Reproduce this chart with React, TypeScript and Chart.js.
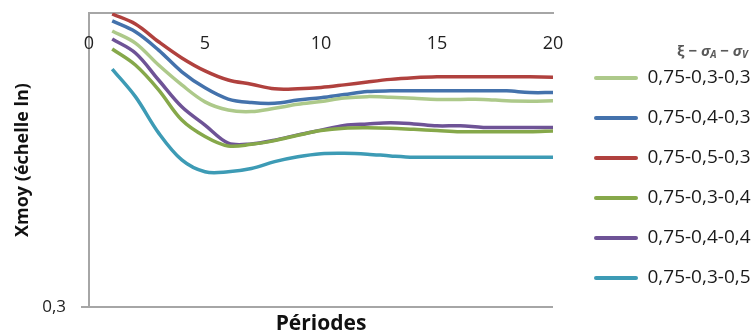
import React, { useEffect, useRef } from 'react';
import { Chart, registerables } from 'chart.js';

Chart.register(...registerables);

// ---- data ----
const periods = [1, 2, 3, 4, 5, 6, 7, 8, 9, 10, 11, 12, 13, 14, 15, 16, 17, 18, 19, 20];
const xTickValues = [0, 5, 10, 15, 20];
const yTickValues = [0.3];
const yMin = 0.3;
const yMax = 1;

const seriesLabels = ['0,75-0,3-0,3', '0,75-0,4-0,3', '0,75-0,5-0,3', '0,75-0,3-0,4', '0,75-0,4-0,4', '0,75-0,3-0,5'];

const s_075_03_03 = [0.929, 0.884, 0.808, 0.745, 0.695, 0.672, 0.668, 0.677, 0.688, 0.696, 0.706, 0.71, 0.708, 0.705, 0.702, 0.702, 0.702, 0.698, 0.697, 0.698];
const s_075_04_03 = [0.968, 0.926, 0.859, 0.786, 0.736, 0.703, 0.693, 0.691, 0.7, 0.707, 0.716, 0.725, 0.727, 0.727, 0.727, 0.727, 0.727, 0.727, 0.722, 0.722];
const s_075_05_03 = [0.996, 0.956, 0.889, 0.832, 0.789, 0.76, 0.747, 0.733, 0.733, 0.737, 0.745, 0.754, 0.762, 0.767, 0.77, 0.77, 0.77, 0.77, 0.77, 0.769];
const s_075_03_04 = [0.863, 0.808, 0.73, 0.645, 0.603, 0.58, 0.584, 0.593, 0.606, 0.618, 0.624, 0.625, 0.624, 0.621, 0.618, 0.615, 0.615, 0.615, 0.615, 0.617];
const s_075_04_04 = [0.899, 0.849, 0.76, 0.681, 0.632, 0.587, 0.585, 0.594, 0.607, 0.619, 0.631, 0.635, 0.638, 0.635, 0.63, 0.63, 0.626, 0.626, 0.626, 0.626];
const s_075_03_05 = [0.795, 0.71, 0.612, 0.548, 0.522, 0.522, 0.529, 0.544, 0.555, 0.562, 0.563, 0.561, 0.557, 0.554, 0.554, 0.554, 0.554, 0.554, 0.554, 0.554];

const seriesValues = [s_075_03_03, s_075_04_03, s_075_05_03, s_075_03_04, s_075_04_04, s_075_03_05];

// ---- styles ----
const seriesColors = ['#ADC98A', '#4472AC', '#B0413E', '#86A84A', '#6E5396', '#3D9BB5'];
const FONT = '"Open Sans", "DejaVu Sans", sans-serif';
const AXIS_GRAY = '#a6a6a6';

const formatY = (v: number) => String(v).replace('.', ',');

// x tick labels sit just inside the plot, under the top axis line
const xTickLabelsPlugin = {
  id: 'xTickLabelsInside',
  afterDraw(chart: any) {
    const sx = chart.scales.x;
    const ctx = chart.ctx;
    ctx.save();
    ctx.font = `18px ${FONT}`;
    ctx.fillStyle = '#222';
    ctx.textAlign = 'center';
    ctx.textBaseline = 'alphabetic';
    for (const v of xTickValues) {
      ctx.fillText(String(v), sx.getPixelForValue(v), chart.chartArea.top + 36);
    }
    ctx.restore();
  },
};

// legend title with subscripts: ξ − σA − σV
const legendTitlePlugin = {
  id: 'legendRichTitle',
  afterDraw(chart: any) {
    const lg = chart.legend;
    if (!lg || !lg.legendHitBoxes || !lg.legendHitBoxes.length) return;
    const ctx = chart.ctx;
    const main = `bold 15px ${FONT}`;
    const sig = `italic bold 15px ${FONT}`;
    const sub = `italic bold 10px ${FONT}`;
    const parts = [
      { t: 'ξ − ', f: main, dy: 0 },
      { t: 'σ', f: sig, dy: 0 },
      { t: 'A', f: sub, dy: 4 },
      { t: ' − ', f: main, dy: 0 },
      { t: 'σ', f: sig, dy: 0 },
      { t: 'V', f: sub, dy: 4 },
    ];
    ctx.save();
    let total = 0;
    const widths = parts.map((p) => {
      ctx.font = p.f;
      const w = ctx.measureText(p.t).width;
      total += w;
      return w;
    });
    let x = lg.right - 8 - total;
    const y = lg.legendHitBoxes[0].top - 17;
    ctx.fillStyle = '#595959';
    ctx.textBaseline = 'middle';
    ctx.textAlign = 'left';
    parts.forEach((p, i) => {
      ctx.font = p.f;
      ctx.fillText(p.t, x, y + p.dy);
      x += widths[i];
    });
    ctx.restore();
  },
};

export default function App() {
  const ref = useRef<HTMLCanvasElement>(null);

  useEffect(() => {
    document.body.style.margin = '0';
    const canvas = ref.current;
    if (!canvas) return;

    const datasets = seriesLabels.map((label, i) => ({
      label,
      data: periods.map((p, j) => ({ x: p, y: seriesValues[i][j] })),
      borderColor: seriesColors[i],
      backgroundColor: seriesColors[i],
      borderWidth: 3.5,
      pointRadius: 0,
      tension: 0.35,
      fill: false,
      xAxisID: 'x',
      yAxisID: 'y',
    }));

    const chart = new Chart(canvas, {
      type: 'line',
      data: { datasets },
      options: {
        animation: false,
        responsive: true,
        maintainAspectRatio: false,
        layout: { padding: 0 },
        plugins: {
          legend: {
            position: 'right',
            align: 'center',
            maxWidth: 183,
            title: {
              display: true,
              text: ' ',
              color: 'rgba(0,0,0,0)',
              font: { family: FONT, size: 15, lineHeight: 1.2 },
              padding: 2,
            },
            labels: {
              boxWidth: 44,
              boxHeight: 4,
              padding: 21,
              color: '#1a1a1a',
              font: { family: FONT, size: 19 },
              useBorderRadius: true,
              borderRadius: 2,
              generateLabels: (c: any) =>
                (Chart.defaults.plugins.legend.labels.generateLabels as any)(c).map((l: any) => ({
                  ...l,
                  lineWidth: 0,
                })),
            },
          },
          tooltip: { enabled: false },
        },
        scales: {
          x: {
            type: 'linear',
            position: 'top',
            min: 0,
            max: 20,
            ticks: { display: false },
            grid: { display: false, drawTicks: false },
            border: { display: true, color: AXIS_GRAY, width: 2 },
            afterFit: (s: any) => {
              s.height = 13;
              s.paddingLeft = 0;
              s.paddingRight = 0;
            },
          },
          x2: {
            type: 'linear',
            position: 'bottom',
            min: 0,
            max: 20,
            ticks: { display: false },
            grid: { display: false, drawTicks: false },
            border: { display: false },
            title: {
              display: true,
              text: 'Périodes',
              color: '#111',
              font: { family: FONT, size: 21, weight: 'bold', lineHeight: 1 },
              padding: { top: 0, bottom: -1 },
            },
            afterFit: (s: any) => {
              s.height = 27;
              s.paddingLeft = 0;
              s.paddingRight = 0;
            },
          },
          y: {
            type: 'logarithmic',
            position: 'left',
            min: yMin,
            max: yMax,
            bounds: 'data',
            afterBuildTicks: (s: any) => {
              s.ticks = yTickValues.map((v) => ({ value: v }));
            },
            ticks: {
              autoSkip: false,
              padding: 15,
              color: '#222',
              font: { family: FONT, size: 17 },
              callback: (v: any) => formatY(Number(v)),
            },
            grid: {
              display: true,
              drawOnChartArea: true,
              drawTicks: true,
              tickLength: 8,
              color: AXIS_GRAY,
              lineWidth: 2,
            },
            border: { display: true, color: AXIS_GRAY, width: 2 },
            title: {
              display: true,
              text: 'Xmoy (échelle ln)',
              color: '#111',
              font: { family: FONT, size: 18, weight: 'bold', lineHeight: 1.2 },
              padding: { top: 12, bottom: 0 },
            },
            afterFit: (s: any) => {
              s.width = 89;
              s.paddingTop = 0;
              s.paddingBottom = 0;
            },
          },
          y2: {
            type: 'linear',
            position: 'right',
            display: true,
            ticks: { display: false },
            grid: { display: false, drawTicks: false },
            border: { display: false },
            afterFit: (s: any) => {
              s.width = 20;
              s.paddingTop = 0;
              s.paddingBottom = 0;
            },
          },
        },
      } as any,
      plugins: [xTickLabelsPlugin, legendTitlePlugin],
    });

    return () => chart.destroy();
  }, []);

  return (
    <div style={{ position: 'absolute', left: 0, top: 0, width: 756, height: 334, background: '#fff' }}>
      <canvas ref={ref} />
    </div>
  );
}
